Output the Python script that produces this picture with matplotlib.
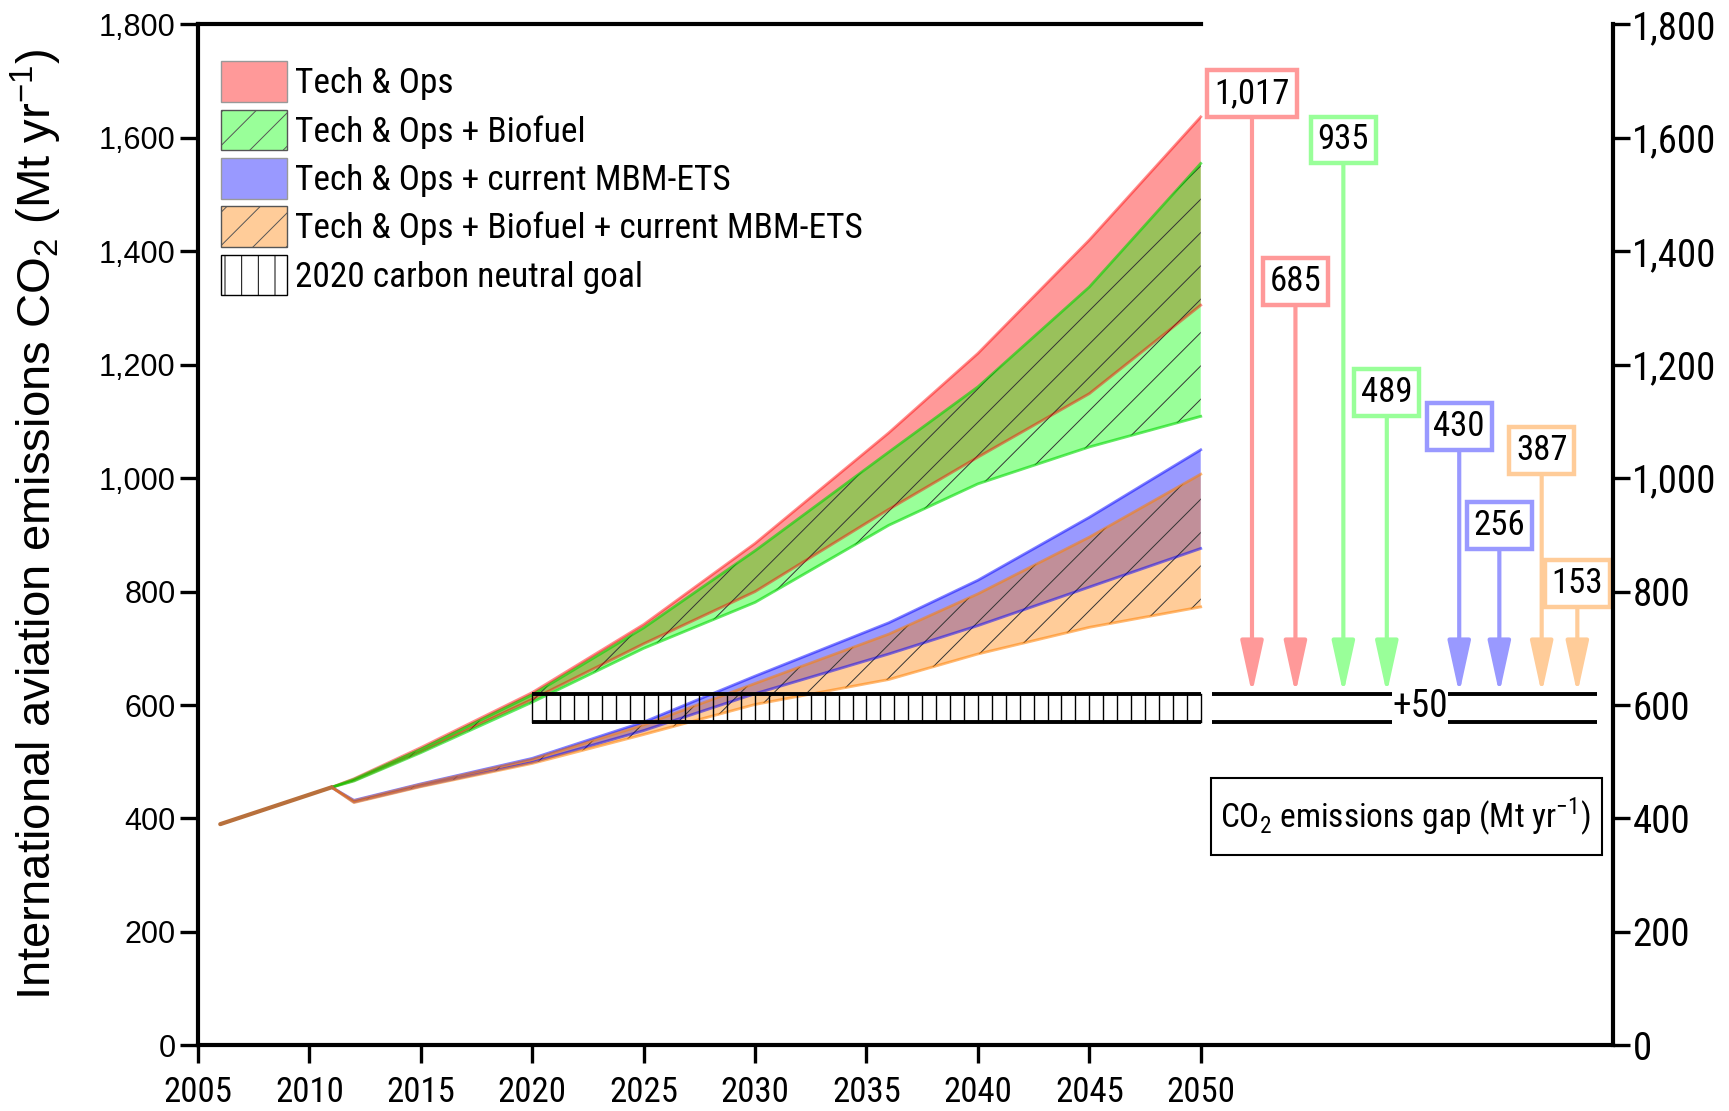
import numpy as np
import matplotlib
matplotlib.use("Agg")
import matplotlib.pyplot as plt
from matplotlib import font_manager
from matplotlib.patches import Patch, Rectangle
from matplotlib.ticker import FuncFormatter

# ---------------------------------------------------------------- data
hist_years = [2006, 2011]
hist_vals = [390, 455]

years = [2011, 2012, 2015, 2020, 2025, 2030, 2036, 2040, 2045, 2050]
red_hi = [455, 470, 525, 622, 742, 885, 1080, 1220, 1420, 1637]
red_lo = [455, 467, 518, 610, 708, 800, 945, 1037, 1149, 1305]
green_hi = [455, 469, 522, 618, 736, 872, 1046, 1161, 1337, 1555]
green_lo = [455, 466, 516, 605, 700, 781, 917, 990, 1055, 1109]
blue_hi = [455, 432, 461, 506, 570, 651, 745, 820, 931, 1050]
blue_lo = [455, 429, 457, 499, 555, 620, 690, 740, 808, 876]
orange_hi = [455, 431, 460, 504, 565, 638, 725, 796, 896, 1007]
orange_lo = [455, 428, 456, 497, 548, 601, 645, 690, 737, 773]

goal_years = [2020, 2050]
goal_top = 620
goal_bottom = 570

gap_labels = ["1,017", "685", "935", "489", "430", "256", "387", "153"]
gap_values = [1017, 685, 935, 489, 430, 256, 387, 153]
gap_x = [2052.3, 2054.25, 2056.4, 2058.35, 2061.6, 2063.4, 2065.3, 2066.9]
gap_series = ["red", "red", "green", "green", "blue", "blue", "orange", "orange"]

legend_labels = ["Tech & Ops", "Tech & Ops + Biofuel",
                 "Tech & Ops + current MBM-ETS",
                 "Tech & Ops + Biofuel + current MBM-ETS",
                 "2020 carbon neutral goal"]

y_ticks = list(range(0, 1801, 200))
x_ticks = list(range(2005, 2051, 5))

# ---------------------------------------------------------------- fonts
names = {f.name for f in font_manager.fontManager.ttflist}
REGULAR = "Liberation Sans"
NARROW, NS = REGULAR, 0.82
for cand in ["Liberation Sans Narrow", "Arial Narrow", "Nimbus Sans Narrow",
             "Roboto Condensed", "Archivo Narrow", "PT Sans Narrow"]:
    if cand in names:
        NARROW, NS = cand, 1.0
        break
plt.rcParams["font.family"] = [NARROW, "DejaVu Sans"]
plt.rcParams["mathtext.fontset"] = "custom"
plt.rcParams["mathtext.rm"] = NARROW
plt.rcParams["hatch.linewidth"] = 0.7

FILL = {"red": (1, 0, 0, 0.4), "green": (0, 1, 0, 0.4),
        "blue": (0, 0, 1, 0.4), "orange": (1, 0.5, 0, 0.4)}
EDGE = {"red": (1, 0, 0, 0.45), "green": (0, 0.85, 0, 0.6),
        "blue": (0, 0, 1, 0.5), "orange": (1, 0.5, 0, 0.55)}
SOLID = {"red": "#ff9999", "green": "#99ff99",
         "blue": "#9999ff", "orange": "#ffcc99"}
HATCHED = {"red": False, "green": True, "blue": False, "orange": True}

fig = plt.figure(figsize=(17.29, 11.11), dpi=100)
ax = fig.add_axes([0.1145, 0.0591, 0.9329 - 0.1145, 0.978 - 0.0591])

x = np.array(years)
bands = [("red", red_lo, red_hi), ("green", green_lo, green_hi),
         ("blue", blue_lo, blue_hi), ("orange", orange_lo, orange_hi)]
for name, lo, hi in bands:
    ax.fill_between(x, lo, hi, facecolor=FILL[name], edgecolor="none", lw=0, zorder=2)
    if HATCHED[name]:
        ax.fill_between(x, lo, hi, facecolor="none", edgecolor="#333333",
                        hatch="/", lw=0, zorder=2.1)
    ax.plot(x, hi, color=EDGE[name], lw=2, zorder=2.2)
    ax.plot(x, lo, color=EDGE[name], lw=2, zorder=2.2)

ax.plot(hist_years, hist_vals, color="#b8703c", lw=3, solid_capstyle="round", zorder=3)

# 2020 carbon neutral goal band
g0, g1 = goal_years
for xv in np.linspace(g0, g1, 49):
    ax.plot([xv, xv], [goal_bottom, goal_top], color="black", lw=1.0, zorder=4)
ax.hlines([goal_top, goal_bottom], g0, g1, colors="black", lw=2.8, zorder=4.1)

# emissions gap arrows and labels
for lab, val, xv, s in zip(gap_labels, gap_values, gap_x, gap_series):
    start = goal_top + val
    ax.annotate("", xy=(xv, goal_top), xytext=(xv, start),
                arrowprops=dict(arrowstyle="-|>,head_length=1.6,head_width=0.35",
                                color=SOLID[s], lw=3, mutation_scale=20,
                                shrinkA=0, shrinkB=0), zorder=5)
    ax.annotate(lab, xy=(xv, start), xytext=(0, 5), textcoords="offset points",
                ha="center", va="bottom", fontsize=25 * NS, zorder=6,
                bbox=dict(boxstyle="square,pad=0.2", fc="white",
                          ec=SOLID[s], lw=3.2))

ax.hlines([goal_top, goal_bottom], 2050.5, 2058.6, colors="black", lw=2.8, zorder=4)
ax.hlines([goal_top, goal_bottom], 2061.1, 2067.8, colors="black", lw=2.8, zorder=4)
ax.text(2059.85, 597, "+50", ha="center", va="center", fontsize=27 * NS)

ax.add_patch(Rectangle((2050.45, 336), 17.55, 136, facecolor="white",
                       edgecolor="black", lw=1.5, zorder=4))
ax.text(2059.2, 404, "CO$_{\\mathregular{2}}$ emissions gap (Mt yr$^{\\mathregular{-1}}$)",
        ha="center", va="center", fontsize=24 * NS, zorder=5)

# axes
ax.set_xlim(2005, 2068.5)
ax.set_ylim(0, 1800)
ax.set_xticks(x_ticks)
ax.set_yticks(y_ticks)
fmt = FuncFormatter(lambda v, p: f"{int(v):,}")
ax.yaxis.set_major_formatter(fmt)
for sp in ax.spines.values():
    sp.set_linewidth(3)
ax.spines["top"].set_bounds(2005, 2050)
ax.spines["right"].set_visible(False)
ax.tick_params(axis="x", direction="out", length=13, width=2.4,
               labelsize=25 * NS, pad=9)
ax.tick_params(axis="y", direction="out", length=13, width=2.4, labelsize=22, pad=3)
for lbl in ax.get_yticklabels():
    lbl.set_fontfamily(REGULAR)

ax2 = ax.twinx()
ax2.set_ylim(0, 1800)
ax2.set_yticks(y_ticks)
ax2.yaxis.set_major_formatter(fmt)
for k in ("top", "left", "bottom"):
    ax2.spines[k].set_visible(False)
ax2.spines["right"].set_linewidth(3)
ax2.tick_params(axis="y", direction="out", length=12, width=2.4,
                labelsize=28 * NS, pad=2)

ax.set_ylabel("International aviation emissions CO$_{\\mathregular{2}}$ (Mt yr$^{\\mathregular{-1}}$)",
              fontsize=34, family=[REGULAR, "DejaVu Sans"])
ax.yaxis.set_label_coords(-0.095, 0.51)

handles = [
    Patch(facecolor=FILL["red"], edgecolor="#999999", lw=1),
    Patch(facecolor=FILL["green"], edgecolor="#555555", lw=1, hatch="/"),
    Patch(facecolor=FILL["blue"], edgecolor="#999999", lw=1),
    Patch(facecolor=FILL["orange"], edgecolor="#555555", lw=1, hatch="/"),
    Patch(facecolor="white", edgecolor="black", lw=1, hatch="|"),
]
lfs = 25.5 * NS
ax.legend(handles, legend_labels, loc="upper left", bbox_to_anchor=(0.016, 0.964),
          frameon=False, fontsize=lfs, handlelength=66 / (lfs * 100 / 72),
          handleheight=1.4 * 25.5 / lfs, labelspacing=0.21 * 25.5 / lfs,
          handletextpad=0.25, borderpad=0, borderaxespad=0)

fig.savefig("out.png", dpi=100)
